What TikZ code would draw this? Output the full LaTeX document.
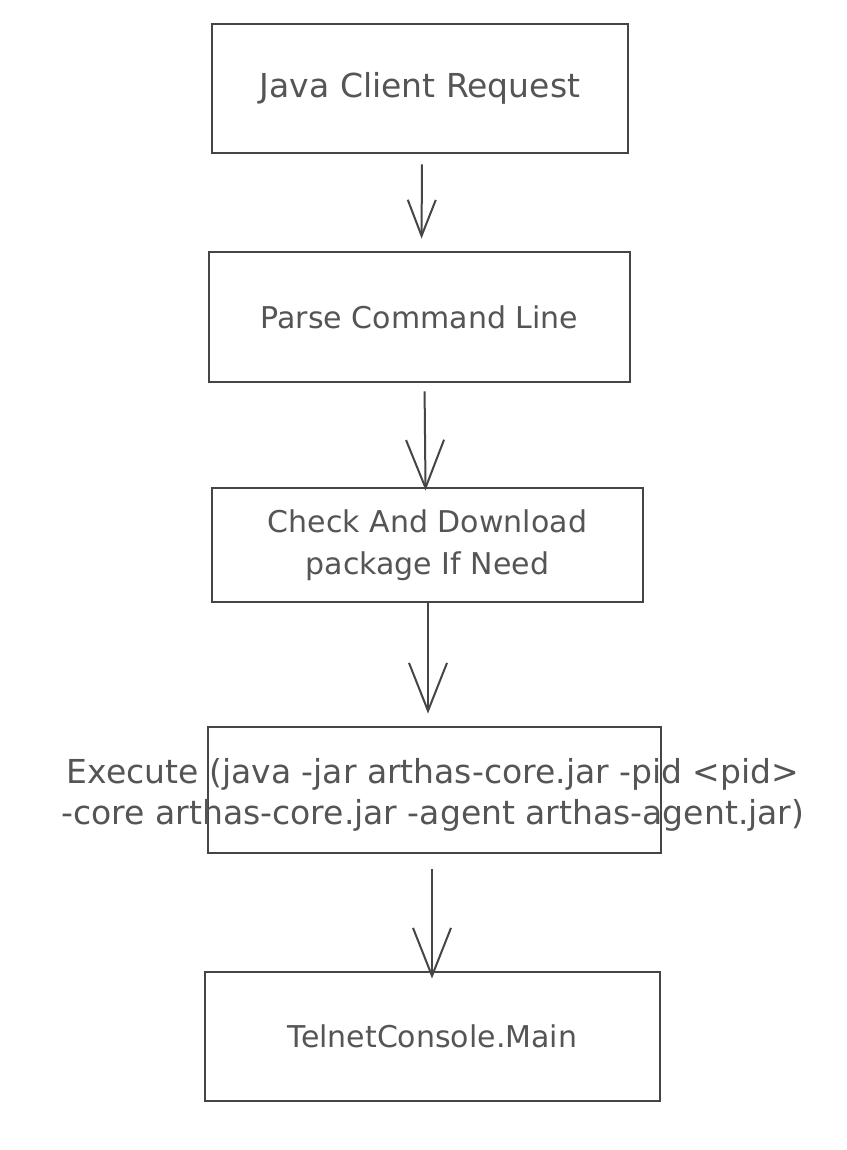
\documentclass[tikz,border=0pt]{standalone}
\usepackage{fontspec}
\setmainfont{DejaVu Sans}
\usetikzlibrary{arrows.meta}
\definecolor{ink}{HTML}{454545}
\definecolor{txt}{HTML}{555555}
\begin{document}
\begin{tikzpicture}[x=1pt,y=-1pt,
  lbl/.style={font=\fontsize{33}{41}\selectfont, text=txt, align=center, inner sep=0pt},
  small/.style={font=\fontsize{30}{42}\selectfont},
  box/.style={lbl, draw=ink, line width=2.8pt},
  flow/.style={draw=ink, line width=2pt, -{Straight Barb[length=48pt,width=38pt,line width=2pt]}},
  shortflow/.style={draw=ink, line width=2pt, -{Straight Barb[length=36pt,width=28pt,line width=2pt]}}]
\fill[white] (0,0) rectangle (846,1150);
\useasboundingbox (0,0) rectangle (846,1150);
\node[box, minimum width=416pt, minimum height=129pt] (b1) at (420,88.5) {Java Client Request};
\node[box, small, minimum width=421pt, minimum height=130pt] (b2) at (419.5,317) {Parse Command Line};
\node[box, small, minimum width=431pt, minimum height=114pt] (b3) at (427.5,545) {Check And Download\\ package If Need};
\node[box, minimum width=453pt, minimum height=126pt] (b4) at (434.5,790) {};
\node[lbl] (t4) at (433,795) {Execute (java -jar arthas-core.jar -pid <pid>\\-core arthas-core.jar -agent arthas-agent.jar)};
\node[box, small, minimum width=455pt, minimum height=129pt] (b5) at (432.5,1036.5) {TelnetConsole.Main};
\draw[shortflow, shorten <=10pt, shorten >=12pt] ([xshift=2pt]b1.south) -- ([xshift=2pt]b2.north);
\draw[flow, shorten <=8pt, shorten >=-4pt] ([xshift=5pt]b2.south) -- ([xshift=-2pt]b3.north);
\draw[flow, shorten <=0pt, shorten >=12pt] ([xshift=0.5pt]b3.south) -- ([xshift=-6.5pt]b4.north);
\draw[flow, shorten <=15pt, shorten >=-8pt] ([xshift=-2.5pt]b4.south) -- ([xshift=-0.5pt]b5.north);
\end{tikzpicture}
\end{document}
